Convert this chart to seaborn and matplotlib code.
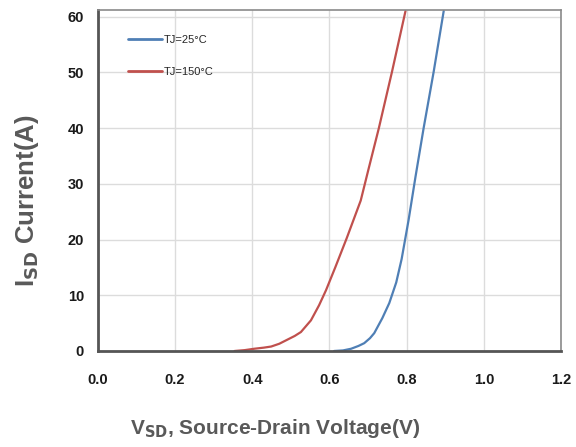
import matplotlib
matplotlib.use("Agg")
import matplotlib.pyplot as plt
import seaborn as sns
import pandas as pd

# Body-diode forward characteristics (I_SD vs V_SD)
v_25c = [0.612, 0.635, 0.656, 0.675, 0.690, 0.705, 0.716, 0.737, 0.755, 0.773, 0.787, 0.805,
         0.823, 0.844, 0.870, 0.896]
i_25c = [0.0, 0.1, 0.4, 0.9, 1.4, 2.3, 3.2, 5.9, 8.6, 12.3, 16.5, 23.5,
         31.3, 40.0, 50.1, 61.0]

v_150c = [0.354, 0.380, 0.405, 0.430, 0.449, 0.470, 0.490, 0.510, 0.526, 0.552, 0.573, 0.591,
          0.615, 0.645, 0.681, 0.700, 0.728, 0.762, 0.797]
i_150c = [0.0, 0.15, 0.4, 0.6, 0.8, 1.3, 2.0, 2.7, 3.4, 5.5, 8.2, 10.9,
          15.0, 20.3, 27.0, 32.3, 40.0, 50.1, 61.0]

series_names = ["TJ=25°C", "TJ=150°C"]
series_colors = ["#4f7fb5", "#c0504d"]

x_ticks = [0.0, 0.2, 0.4, 0.6, 0.8, 1.0, 1.2]
y_ticks = [0, 10, 20, 30, 40, 50, 60]

df = pd.concat([
    pd.DataFrame({"V": v_25c, "I": i_25c, "Tj": series_names[0]}),
    pd.DataFrame({"V": v_150c, "I": i_150c, "Tj": series_names[1]}),
], ignore_index=True)

sns.set_theme(style="white")
plt.rcParams["font.family"] = ["Liberation Sans", "DejaVu Sans"]

fig = plt.figure(figsize=(5.76, 4.47), dpi=100)
ax = fig.add_axes([0.170, 0.2148, 0.804, 0.763])

sns.lineplot(data=df, x="V", y="I", hue="Tj", palette=dict(zip(series_names, series_colors)),
             sort=False, estimator=None, linewidth=1.6, ax=ax)

ax.set_xlim(0.0, 1.2)
ax.set_ylim(0, 61.2)
ax.set_xticks(x_ticks)
ax.set_yticks(y_ticks)
ax.set_xticklabels([f"{t:.1f}" for t in x_ticks], fontsize=10.5, fontweight="bold", color="#1a1a1a")
ax.set_yticklabels([str(t) for t in y_ticks], fontsize=10.5, fontweight="bold", color="#1a1a1a")
ax.tick_params(axis="both", length=0)
ax.tick_params(axis="x", pad=16)
ax.tick_params(axis="y", pad=10)

ax.grid(True, color="#dcdcdc", linewidth=1.0)
for side in ["top", "right"]:
    ax.spines[side].set_color("#8a8a8a")
    ax.spines[side].set_linewidth(1.2)
for side in ["left", "bottom"]:
    ax.spines[side].set_color("#555555")
    ax.spines[side].set_linewidth(2.0)

ax.set_xlabel(r"V$_{\mathbf{SD}}$, Source-Drain Voltage(V)", fontsize=15, fontweight="bold",
              color="#595959")
ax.set_ylabel(r"I$_{\mathbf{SD}}$ Current(A)", fontsize=18.5, fontweight="bold",
              color="#595959")
ax.xaxis.label.set_va("center")
ax.yaxis.label.set_va("center")
ax.xaxis.set_label_coords(0.383, -0.226)
ax.yaxis.set_label_coords(-0.153, 0.44)

leg = ax.legend(loc="upper left", bbox_to_anchor=(0.065, 0.926), frameon=False,
                borderaxespad=0, borderpad=0, fontsize=8,
                handlelength=3.1, handletextpad=0.1, labelspacing=2.0)
for line in leg.get_lines():
    line.set_linewidth(2.0)

fig.savefig("out.png", dpi=100)
